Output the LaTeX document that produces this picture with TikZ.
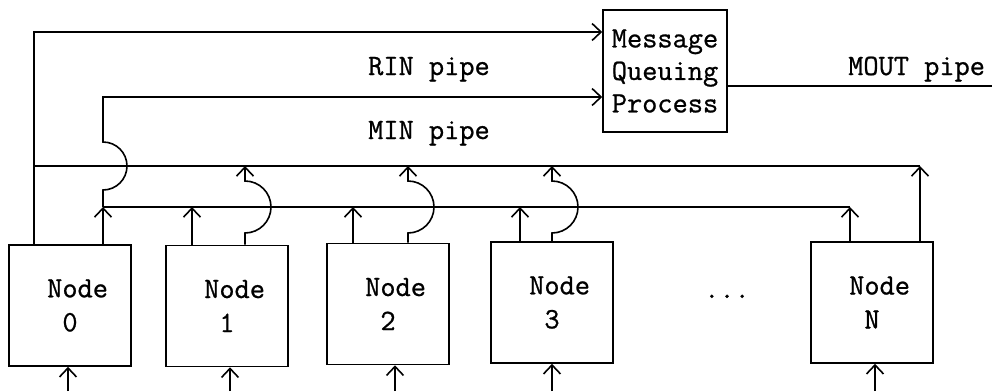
\documentclass[tikz,border=0pt]{standalone}
\usepackage{fontspec}
\setmonofont[FakeBold=0.8]{Latin Modern Mono}
\usetikzlibrary{arrows.meta}
\begin{document}
\begin{tikzpicture}[x=1pt,y=-1pt,
  txt/.style={font=\ttfamily\fontsize{29.5}{33}\selectfont, inner sep=0pt},
  nodebox/.style={draw, line width=1.6pt, minimum width=122pt, minimum height=121pt,
    align=center, inner sep=0pt, font=\ttfamily\fontsize{29.5}{34}\selectfont},
  procbox/.style={draw, line width=1.6pt, minimum width=124pt, minimum height=122pt,
    align=center, inner sep=0pt, font=\ttfamily\fontsize{29.5}{32.5}\selectfont},
  wire/.style={line width=1.6pt},
  arr/.style={wire, -{Straight Barb[length=9pt,width=17pt]}}]
\useasboundingbox (0,0) rectangle (992,391);

% boxes
\node[procbox] (mqp) at (665,71) {Message\\Queuing\\Process};
\node[nodebox] (n0) at (70,305.5) {\hphantom{N}Node\\0};
\node[nodebox] (n1) at (227,306) {\hphantom{N}Node\\1};
\node[nodebox] (n2) at (388,304) {\hphantom{N}Node\\2};
\node[nodebox] (n3) at (552,302.5) {\hphantom{N}Node\\3};
\node[nodebox] (nN) at (872,302.5) {\hphantom{N}Node\\N};
\node[txt, anchor=base] (dots) at (727,298) {...};

% labels
\node[txt, anchor=base west] (rin) at (368,75) {RIN pipe};
\node[txt, anchor=base west] (min) at (368,139) {MIN pipe};
\node[txt, anchor=base west] (mout) at (848,75) {MOUT pipe};

% bus coordinates
\coordinate (ubL) at (34,166);
\coordinate (ubR) at (920,166);
\coordinate (lbL) at (103,207);
\coordinate (lbR) at (850,207);
\coordinate (moutend) at (992,86);

% RIN: node 0 left output directly, and upper bus
\draw[arr] (34,0 |- n0.north) -- (34,32) -- (mqp.west |- 0,32);
\draw[wire] (ubL) -- (ubR);
\draw[arr] (920,0 |- nN.north) -- (ubR);

% MIN: lower bus, node 0 right output jumps over upper bus
\draw[wire] (lbL) -- (lbR);
\draw[arr] (103,0 |- n0.north) -- (lbL);
\draw[arr] (lbL) -- (103,190) arc[start angle=90,end angle=-90,radius=24] -- (103,97) -- (mqp.west |- 0,97);
\draw[arr] (850,0 |- nN.north) -- (lbR);

% left outputs to lower bus
\draw[arr] (192,0 |- n1.north) -- (192,207);
\draw[arr] (353,0 |- n2.north) -- (353,207);
\draw[arr] (520,0 |- n3.north) -- (520,207);

% right outputs jump over lower bus to upper bus
\draw[arr] (245,0 |- n1.north) -- (245,233) arc[start angle=90,end angle=-90,radius=26] -- (245,166);
\draw[arr] (408,0 |- n2.north) -- (408,233) arc[start angle=90,end angle=-90,radius=26] -- (408,166);
\draw[arr] (552,0 |- n3.north) -- (552,233) arc[start angle=90,end angle=-90,radius=26] -- (552,166);

% MOUT
\draw[wire] (mqp.east |- moutend) -- (moutend);

% inputs from below
\coordinate (i0) at (68,391);
\coordinate (i1) at (230,391);
\coordinate (i2) at (395,391);
\coordinate (i3) at (552,391);
\coordinate (iN) at (875,391);
\draw[arr] (i0) -- (i0 |- n0.south);
\draw[arr] (i1) -- (i1 |- n1.south);
\draw[arr] (i2) -- (i2 |- n2.south);
\draw[arr] (i3) -- (i3 |- n3.south);
\draw[arr] (iN) -- (iN |- nN.south);
\end{tikzpicture}
\end{document}
